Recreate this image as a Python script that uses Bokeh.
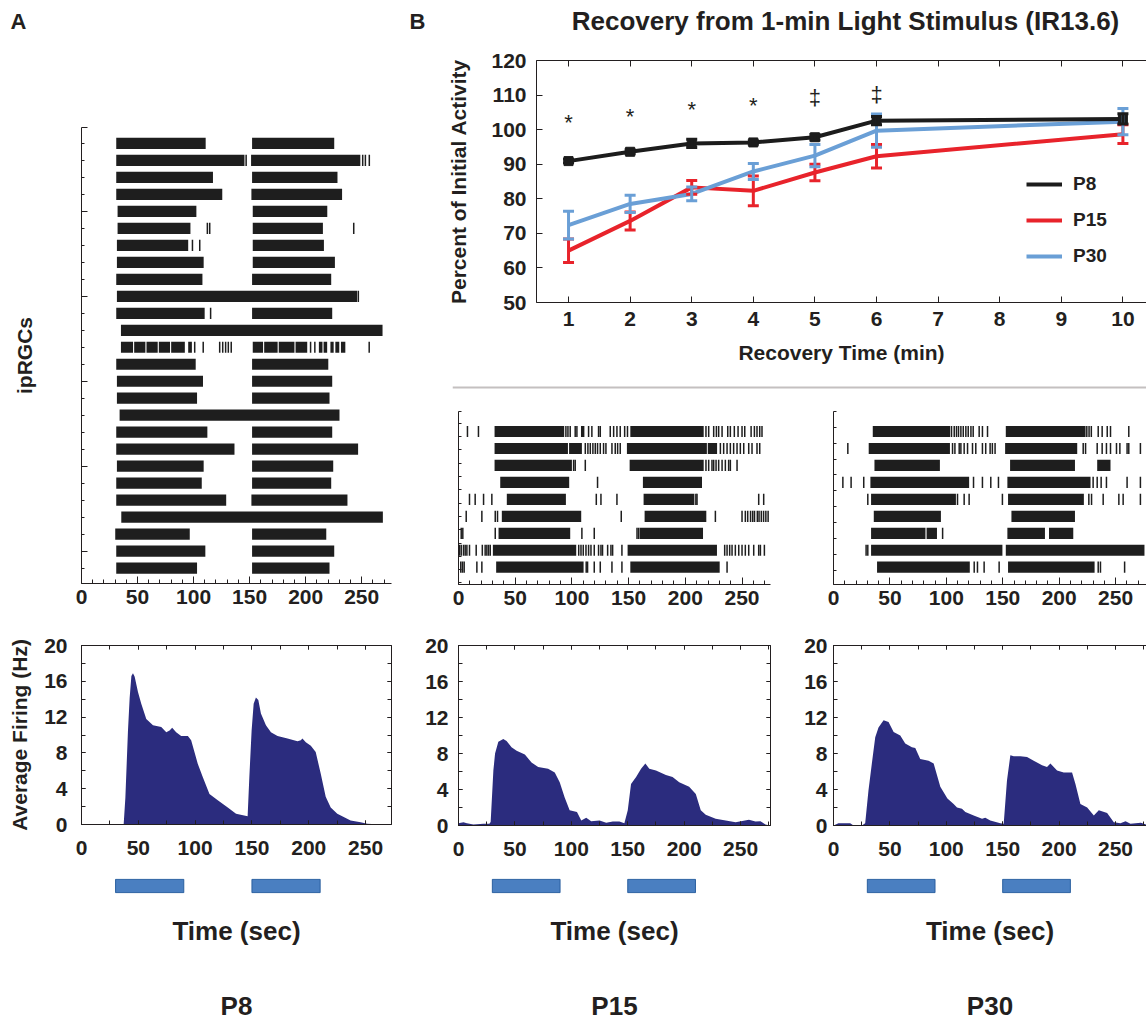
from bokeh.plotting import figure
from bokeh.models import (Range1d, FixedTicker, LinearAxis, Legend, LegendItem, Span, Spacer,
                          Whisker, TeeHead, ColumnDataSource, CustomJSTickFormatter)
from bokeh.layouts import column, row
from bokeh.embed import file_html
from bokeh.resources import INLINE
from bokeh.core.properties import value

FONT = "Liberation Sans"
INK = "#231f20"
NAVY = "#2b2c7e"
STIM_FILL = "#4a7fc1"
STIM_LINE = "#2a5f9f"

# ---------------- data: recovery curve ----------------
rec_time = [1, 2, 3, 4, 5, 6, 10]
p8_mean = [90.9, 93.6, 96.0, 96.3, 97.8, 102.6, 103.1]
p8_sem = [0.5, 0.6, 1.2, 0.5, 0.8, 1.2, 1.5]
p15_mean = [65.0, 73.6, 83.3, 82.3, 87.6, 92.3, 98.7]
p15_sem = [3.4, 2.6, 2.0, 4.3, 2.4, 3.4, 2.7]
p30_mean = [72.4, 78.5, 81.4, 87.9, 92.5, 99.7, 102.3]
p30_sem = [4.0, 2.5, 2.0, 2.3, 3.2, 4.8, 3.8]
sig_x = [1, 2, 3, 4, 5, 6]
sig_y = [102.2, 103.8, 105.8, 107.0, 109.2, 110.2]
sig_text = ["*", "*", "*", "*", "\u2021", "\u2021"]
rec_ticks = [1, 2, 3, 4, 5, 6, 7, 8, 9, 10]
pct_ticks = [50, 60, 70, 80, 90, 100, 110, 120]

# ---------------- data: light stimulus ----------------
stim_on = [30, 150]
stim_off = [90, 210]

# ---------------- data: rasters (burst intervals and single spikes, seconds) ----------------
a_bursts = [
    [(31.0, 110.8), (152.2, 225.5)],
    [(31.0, 145.4), (151.3, 248.8)],
    [(31.0, 117.3), (152.2, 228.4)],
    [(31.0, 125.6), (151.6, 232.5)],
    [(32.2, 102.5), (152.8, 219.3)],
    [(32.2, 97.2), (152.8, 215.4)],
    [(31.6, 95.2), (152.8, 216.3)],
    [(31.6, 109.0), (152.8, 226.1)],
    [(31.0, 107.9), (152.2, 222.8)],
    [(31.6, 245.9)],
    [(31.0, 109.9), (152.2, 223.7)],
    [(35.2, 268.6)],
    [(35.2, 46), (47, 57), (58, 68), (69, 79), (80, 92.2), (95.2, 98.5), (152.8, 162), (163, 175),
     (176, 190), (191, 201.4), (211.8, 215), (216, 219.2), (222.1, 225), (226.5, 230), (231.5, 235.4)],
    [(31.0, 101.9), (152.2, 220.2)],
    [(31.6, 108.4), (152.2, 223.7)],
    [(31.6, 103.1), (152.2, 221.3)],
    [(34.0, 230.2)],
    [(31.0, 112.3), (152.2, 223.7)],
    [(31.0, 136.5), (152.2, 246.8)],
    [(31.6, 109.0), (152.2, 224.6)],
    [(31.0, 107.3), (152.2, 222.8)],
    [(31.0, 129.1), (151.6, 237.3)],
    [(35.5, 268.9)],
    [(30.1, 96.6), (152.2, 218.4)],
    [(31.0, 110.5), (152.2, 225.5)],
    [(31.0, 103.1), (152.2, 221.3)],
]
a_spikes = [
    [], [146.9, 250.9, 253.3, 256.8], [], [], [], [112.3, 114.4, 242.9], [99.0, 105.5], [], [],
    [247.0], [115.2], [],
    [101.0, 108.6, 123.3, 126.0, 128.6, 131.0, 133.6, 204.4, 208.2, 256.7],
    [], [], [], [], [], [], [], [], [], [], [], [], [],
]

p15_bursts = [
    [(31.8, 93.2), (108, 111), (151.5, 216.2)],
    [(31.8, 96.5), (97.5, 108.8), (148.5, 219.0), (219.8, 228.0)],
    [(31.8, 100.0), (150.9, 216.2)],
    [(36.8, 97.6), (162.6, 214.7)],
    [(42.6, 94.7), (163.2, 208.0)],
    [(38.2, 108.2), (164.1, 218.5)],
    [(35.3, 98.5), (159.7, 215.6)],
    [(30.3, 103.8), (149.1, 227.9)],
    [(33.2, 110.3), (151.5, 230.3)],
]
p15_spikes = [
    [7.9, 17.6, 94.7, 96.5, 98.5, 102.9, 104.4, 114.7, 117.6, 123.5, 125.0, 133.8, 136.8, 139.7, 142.6,
     146.5, 149.0, 218.2, 220.6, 225.0, 227.4, 229.4, 232.4, 237.4, 239.7, 243.2, 246.5, 250.0, 252.4,
     258.0, 260.9, 263.2, 265.6, 267.6],
    [111.8, 114.1, 116.2, 118.5, 120.6, 122.6, 125.0, 127.9, 130.0, 135.3, 138.2, 140.3, 142.6, 230.9,
     233.8, 236.8, 239.7, 242.6, 245.6, 248.5, 251.5, 255.9, 258.8, 263.2, 265.6],
    [101.5, 102.9, 111.8, 218.2, 220.6, 223.5, 225.0, 227.1, 229.4, 232.4, 235.3, 238.2, 239.7, 245.6],
    [122.6],
    [9.7, 14.7, 22.1, 29.4, 121.5, 125.6, 139.7, 209.3, 210.3, 264.7, 269.1],
    [6.8, 20.6, 32.4, 34.4, 143.5, 226.5, 250.0, 252.9, 255.0, 257.5, 259.4, 261.0, 263.5, 265.0, 267.0,
     269.0, 271.0, 273.0],
    [2.4, 3.8, 32.4, 108.8, 119.7, 157.4, 158.8],
    [0.9, 2.4, 4.4, 5.9, 7.4, 9.7, 15.6, 21.0, 23.5, 25.0, 26.5, 28.0, 106.0, 108.0, 110.0, 112.4, 114.7,
     116.8, 119.7, 123.5, 125.6, 127.0, 131.5, 134.4, 135.9, 144.1, 234.7, 236.8, 239.1, 241.2, 244.1,
     247.1, 250.0, 252.9, 255.9, 260.3, 264.7, 266.2, 269.7],
    [2.0, 3.5, 5.0, 16.2, 20.6, 112.6, 113.8, 119.7, 125.0, 135.3, 144.1, 236.8],
]

p30_bursts = [
    [(34.8, 103.4), (152.7, 223.4)],
    [(31.2, 103.2), (152.1, 216.0)],
    [(36.3, 94.3), (156.5, 214.0), (233.7, 245.5)],
    [(32.7, 120.2), (154.1, 227.8)],
    [(33.3, 108.5), (154.7, 221.9)],
    [(35.7, 95.2), (157.7, 214.0)],
    [(33.3, 81.5), (82.5, 91.7), (154.1, 187.4), (191.0, 212.5)],
    [(33.3, 149.7), (152.7, 275.6)],
    [(38.6, 120.8), (154.7, 231.4)],
]
p30_spikes = [
    [104.6, 107.0, 109.0, 110.8, 112.9, 115.0, 117.3, 119.4, 121.8, 123.8, 129.1, 132.0, 136.5, 224.5,
     226.5, 228.5, 234.6, 238.1, 242.6, 245.5, 261.7],
    [12.7, 105.5, 107.6, 111.4, 112.9, 115.8, 118.8, 123.2, 126.1, 132.0, 134.9, 138.8, 140.8, 143.2,
     221.3, 223.4, 233.7, 238.1, 241.9, 245.5, 250.8, 253.8, 260.2, 261.7, 272.0],
    [],
    [8.3, 15.6, 26.8, 124.1, 132.0, 139.4, 146.2, 230.1, 233.7, 237.2, 241.9, 260.2, 272.0],
    [30.4, 109.9, 115.8, 120.2, 149.7, 226.3, 228.7, 239.0, 252.9, 256.7, 272.0],
    [],
    [96.7],
    [28.9, 30.4],
    [124.7, 127.6, 133.5, 146.8, 234.6, 236.6, 258.0],
]

# ---------------- data: average firing (Hz) ----------------
p8_hist_t = [0, 37.1, 38.6, 40.9, 42.4, 43.9, 45.3, 46.8, 49.7, 52.6, 57.0, 62.9, 70.2, 74.6, 77.5,
             79.8, 83.3, 87.7, 93.6, 96.5, 102.3, 106.7, 112.6, 119.9, 128.7, 136.0, 146.2, 147.7,
             149.7, 151.5, 153.5, 155.6, 157.9, 162.3, 166.7, 172.5, 181.3, 190.1, 193.0, 194.4,
             197.4, 201.8, 206.1, 210.5, 214.9, 219.3, 225.1, 236.8, 245.6, 251.5, 263.2, 272.0]
p8_hist_hz = [0, 0, 3.0, 10.5, 14.2, 16.6, 16.9, 16.5, 14.8, 13.5, 11.8, 11.1, 10.9, 10.3, 10.5,
              10.8, 10.3, 9.9, 9.9, 9.4, 6.8, 5.3, 3.4, 2.7, 1.9, 1.2, 0.93, 5.3,
              10.5, 13.5, 14.2, 13.9, 12.4, 11.1, 10.3, 9.9, 9.6, 9.3, 9.4, 9.6,
              9.2, 8.8, 8.1, 5.7, 3.1, 1.9, 1.2, 0.45, 0.26, 0.07, 0, 0]
p15_hist_t = [0, 4.4, 7.4, 13.2, 22.0, 27.4, 28.5, 30.9, 32.4, 35.3, 39.7, 42.6, 47.0, 51.5, 58.8,
              64.7, 70.6, 79.4, 85.3, 89.7, 94.1, 98.5, 105.0, 108.8, 113.2, 117.6, 125.0, 130.9,
              136.8, 142.6, 147.0, 150.0, 152.9, 157.4, 161.8, 165.6, 169.1, 175.0, 183.8, 189.7,
              195.6, 204.4, 210.3, 214.7, 219.1, 227.9, 236.8, 245.6, 257.4, 263.2, 267.6, 272.0, 276.0]
p15_hist_hz = [0.26, 0.37, 0.26, 0.1, 0.2, 0.2, 0.4, 6.1, 8.0, 9.3, 9.6, 9.4, 8.7, 8.3, 7.9,
               7.0, 6.5, 6.3, 5.9, 4.8, 3.1, 1.7, 1.5, 0.55, 0.85, 0.48, 0.55, 0.3,
               0.44, 0.44, 0.26, 1.7, 4.6, 5.4, 6.3, 6.9, 6.3, 6.1, 5.6, 5.4,
               4.8, 4.3, 3.5, 1.7, 1.2, 0.74, 0.55, 0.37, 0.63, 0.44, 0.48, 0.1, 0]
p30_hist_t = [0, 4.4, 8.9, 14.8, 17.8, 25.1, 28.1, 31.0, 34.0, 37.0, 39.9, 44.4, 48.8, 53.3, 59.2,
              63.6, 69.5, 72.5, 76.9, 84.3, 88.8, 94.7, 101.0, 106.5, 109.5, 113.9, 116.9, 124.3,
              131.7, 134.6, 139.0, 147.9, 150.9, 153.8, 156.8, 159.8, 165.7, 171.6, 177.5, 184.9,
              189.3, 192.3, 198.2, 204.1, 211.5, 214.5, 218.9, 224.9, 230.8, 235.2, 242.6, 248.5,
              254.4, 258.9, 263.3, 267.8, 272.5, 277.5]
p30_hist_hz = [0, 0.26, 0.26, 0.26, 0, 0, 0.26, 3.9, 6.9, 9.8, 10.9, 11.7, 11.5, 10.4, 10.0,
               9.1, 8.7, 8.6, 7.4, 7.2, 6.9, 4.3, 3.0, 2.4, 2.0, 1.85, 1.5, 1.1,
               0.74, 0.85, 0.56, 0.26, 0.19, 5.0, 7.8, 7.7, 7.7, 7.6, 7.2, 6.7,
               6.5, 6.9, 6.1, 5.9, 5.9, 4.6, 2.4, 2.0, 1.1, 1.7, 1.4, 0.37,
               0.26, 0.48, 0.19, 0.26, 0.3, 0.1]

time_ticks = [0, 50, 100, 150, 200, 250]
hz_ticks = [0, 4, 8, 12, 16, 20]


# ---------------- helpers ----------------
def base_fig(w, h, xr, yr, l, r, t, b):
    p = figure(width=w, height=h, x_range=xr, y_range=yr, toolbar_location=None, title=None,
               output_backend="svg", x_axis_location=None, y_axis_location=None,
               min_border_left=l, min_border_right=r, min_border_top=t, min_border_bottom=b)
    p.xgrid.visible = False
    p.ygrid.visible = False
    p.outline_line_color = None
    p.background_fill_color = "white"
    p.border_fill_color = "white"
    return p


def add_axis(p, place, ticks, minor=None, tin=5, minor_in=None, labels=True, size="21px",
             standoff=6, line=True):
    ax = LinearAxis(ticker=FixedTicker(ticks=ticks, minor_ticks=minor or []))
    ax.axis_line_color = INK if line else None
    ax.major_tick_line_color = INK if ticks else None
    ax.major_tick_in = tin
    ax.major_tick_out = 0
    ax.minor_tick_line_color = INK if minor else None
    ax.minor_tick_in = minor_in if minor_in is not None else tin
    ax.minor_tick_out = 0
    if labels:
        ax.major_label_text_font = FONT
        ax.major_label_text_font_style = "bold"
        ax.major_label_text_font_size = size
        ax.major_label_text_color = INK
        ax.major_label_standoff = standoff
    else:
        ax.formatter = CustomJSTickFormatter(code="return ''")
        ax.major_label_standoff = 0
    ax.axis_label_text_font = FONT
    ax.axis_label_text_font_style = "bold"
    ax.axis_label_text_color = INK
    p.add_layout(ax, place)
    return ax


def header_fig(w, h, l, r, text, size, standoff):
    p = base_fig(w, h, Range1d(0, 1), Range1d(0, 1), l, r, 0, h - 4)
    ax = add_axis(p, "below", [], None, labels=False, line=False)
    ax.axis_label = text
    ax.axis_label_text_font_size = size
    ax.axis_label_standoff = standoff
    return p


def draw_raster(p, bursts, spikes):
    L, R, T, B = [], [], [], []
    for i, rb in enumerate(bursts, start=1):
        for s, e in rb:
            L.append(s); R.append(e); T.append(i - 0.33); B.append(i + 0.33)
    p.quad(left=L, right=R, top=T, bottom=B, fill_color="#1e1e1e", line_color=None)
    xs, ys = [], []
    for i, rs in enumerate(spikes, start=1):
        xs += rs
        ys += [i] * len(rs)
    p.rect(x=xs, y=ys, width=1.5, width_units="screen", height=0.66,
           fill_color="#1e1e1e", line_color=None)


def raster_fig(w, h, xmax, yr, l, r, t, b, yticks, yminor=None, ymaj_in=3, ymin_in=2):
    p = base_fig(w, h, Range1d(0, xmax), yr, l, r, t, b)
    add_axis(p, "below", time_ticks, list(range(0, 280, 10)), tin=7, minor_in=4, standoff=6)
    ya = add_axis(p, "left", yticks, yminor, tin=ymaj_in, minor_in=ymin_in, labels=False)
    return p, ya


def hist_fig(w, xmax, l, r, b, t_vals, hz_vals, ystand, right_axis=True):
    p = base_fig(w, 244, Range1d(0, xmax), Range1d(0, 20), l, r, 23, b)
    p.varea(x=t_vals, y1=0, y2=hz_vals, fill_color=NAVY)
    xm = list(range(0, 276, 25))
    ym = list(range(0, 21, 2))
    add_axis(p, "below", time_ticks, xm, tin=4, standoff=16)
    add_axis(p, "above", time_ticks, xm, tin=4, labels=False)
    ya = add_axis(p, "left", hz_ticks, ym, tin=4, standoff=ystand)
    if right_axis:
        add_axis(p, "right", hz_ticks, ym, tin=4, labels=False)
    return p, ya


def stim_fig(w, xmax, l, r, age):
    p = base_fig(w, 157, Range1d(0, xmax), Range1d(-0.06, 1.06), l, r, 12, 129)
    p.quad(left=stim_on, right=stim_off, bottom=0, top=1, fill_color=STIM_FILL,
           line_color=STIM_LINE, line_width=1)
    a1 = add_axis(p, "below", [], None, labels=False, line=False)
    a1.axis_label = "Time (sec)"
    a1.axis_label_text_font_size = "26px"
    a1.axis_label_standoff = 22
    a2 = add_axis(p, "below", [], None, labels=False, line=False)
    a2.axis_label = age
    a2.axis_label_text_font_size = "26px"
    a2.axis_label_standoff = 42
    return p


# ---------------- header row: panel letters and title ----------------
hdrA = header_fig(400, 48, 10, 374, "A", "22px", 4)
hdrB = header_fig(100, 48, 9, 75, "B", "22px", 4)
hdrT = header_fig(646, 48, 335, 291, "Recovery from 1-min Light Stimulus (IR13.6)", "26px", 1)
header = row(hdrA, hdrB, hdrT)

# ---------------- column A (P8) ----------------
rA, yaA = raster_fig(410, 574, 276.6, Range1d(26.91, 0.06), 81, 17, 79, 39,
                     [0.06, 5, 10, 15, 20, 25], list(range(1, 27)), ymaj_in=6, ymin_in=3)
draw_raster(rA, a_bursts, a_spikes)
yaA.axis_label = "ipRGCs"
yaA.axis_label_text_font_size = "21px"
yaA.axis_label_standoff = 46

hA, hyA = hist_fig(410, 272.8, 80, 19, 42, p8_hist_t, p8_hist_hz, 14)
hyA.axis_label = "Average Firing (Hz)"
hyA.axis_label_text_font_size = "21px"
hyA.axis_label_standoff = 10
sA = stim_fig(410, 272.8, 80, 19, "P8")
colA = column(rA, hA, sA)

# ---------------- line chart (B) ----------------
lc = base_fig(736, 330, Range1d(0.48, 10.383), Range1d(50, 120), 126, 0, 12, 76)
colors = {"P8": "#1c1c1c", "P15": "#e8232b", "P30": "#6a9fd6"}
rend = {}
for name, mean, sem in [("P15", p15_mean, p15_sem), ("P30", p30_mean, p30_sem),
                        ("P8", p8_mean, p8_sem)]:
    c = colors[name]
    src = ColumnDataSource(dict(x=rec_time, y=mean,
                                lo=[m - s for m, s in zip(mean, sem)],
                                hi=[m + s for m, s in zip(mean, sem)]))
    lc.add_layout(Whisker(source=src, base="x", upper="hi", lower="lo", line_color=c,
                          line_width=3, level="glyph",
                          upper_head=TeeHead(size=11, line_color=c, line_width=3),
                          lower_head=TeeHead(size=11, line_color=c, line_width=3)))
    rend[name] = lc.line("x", "y", source=src, line_color=c, line_width=4)
    if name == "P8":
        lc.scatter("x", "y", source=src, marker="square", size=9, color=c)

lc.text(x=sig_x, y=sig_y, text=sig_text, text_font=value(FONT), text_font_size="22px",
        text_align="center", text_baseline="middle", text_color=INK)

bx = add_axis(lc, "below", rec_ticks, None, tin=6, standoff=9)
bx.axis_label = "Recovery Time (min)"
bx.axis_label_text_font_size = "21px"
bx.axis_label_standoff = 12
add_axis(lc, "above", rec_ticks, None, tin=6, labels=False)
ly = add_axis(lc, "left", pct_ticks, None, tin=6, standoff=10)
ly.axis_label = "Percent of Initial Activity"
ly.axis_label_text_font_size = "21px"
ly.axis_label_standoff = 18

legend = Legend(items=[LegendItem(label="P8", renderers=[rend["P8"]]),
                       LegendItem(label="P15", renderers=[rend["P15"]]),
                       LegendItem(label="P30", renderers=[rend["P30"]])],
                location=(490, 35), orientation="vertical", glyph_width=36, glyph_height=22,
                label_height=22, spacing=14, padding=0, margin=0, label_standoff=11,
                border_line_color=None, background_fill_alpha=0,
                label_text_font=FONT, label_text_font_style="bold", label_text_font_size="19px",
                label_text_color=INK)
lc.add_layout(legend)

# divider between the curve and the lower panels
dv = base_fig(694, 14, Range1d(0, 1), Range1d(0, 1), 0, 0, 0, 0)
dv.add_layout(Span(location=0.35, dimension="width", line_color="#c4c0c0", line_width=2))
divider = row(Spacer(width=42, height=14), dv)

# ---------------- column P15 ----------------
p15_yt = [-0.16] + [round(0.51 + 0.785 * k, 3) for k in range(13)]
r15, _ = raster_fig(385, 230, 275.1, Range1d(10.02, -0.18), 48, 25, 19, 38, p15_yt)
draw_raster(r15, p15_bursts, p15_spikes)
h15, _ = hist_fig(385, 276.5, 48, 23, 41, p15_hist_t, p15_hist_hz, 10)
s15 = stim_fig(385, 276.5, 48, 23, "P15")
col15 = column(r15, h15, s15)

# ---------------- column P30 ----------------
p30_yt = [-0.16] + [round(0.75 + 0.937 * k, 3) for k in range(10)]
r30, _ = raster_fig(351, 230, 277.4, Range1d(10.02, -0.18), 37, 0, 19, 38, p30_yt)
draw_raster(r30, p30_bursts, p30_spikes)
h30, _ = hist_fig(351, 277.5, 38, 0, 41, p30_hist_t, p30_hist_hz, 6, right_axis=False)
s30 = stim_fig(351, 277.5, 38, 0, "P30")
col30 = column(r30, h30, s30)

colB = column(lc, divider, row(col15, col30))
layout = column(header, row(colA, colB))

open("out.html", "w").write(file_html(layout, INLINE, title="ipRGC recovery"))
